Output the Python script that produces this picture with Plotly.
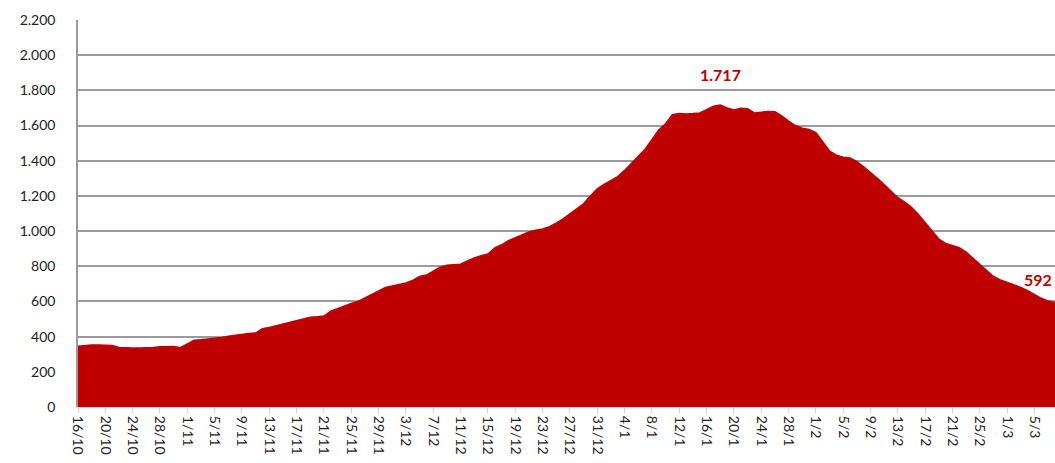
import plotly.graph_objects as go
import pandas as pd

start_date = "2020-10-16"
values = [
    345, 350, 352, 352, 350, 350,
    338, 335, 335, 336, 336, 338, 342, 345, 344,
    337, 360, 380, 382, 385, 392, 395, 402, 408, 412, 418, 420,
    445, 452, 462, 471, 480, 490, 500, 510, 513, 517,
    545, 560, 572, 588, 600, 620, 642, 662, 680, 688, 698, 705,
    720, 742, 750, 772, 795, 806, 810, 812, 830, 848, 860, 870,
    905, 922, 945, 962, 978, 995, 1005, 1012, 1025, 1045, 1070, 1100,
    1128, 1155, 1200, 1240, 1265, 1290, 1310, 1345, 1385, 1420, 1465, 1520,
    1575, 1610, 1662, 1668, 1665, 1668, 1672, 1690, 1710, 1717, 1700, 1688,
    1698, 1695, 1672, 1676, 1680, 1678, 1655, 1625, 1600, 1585, 1578, 1560,
    1510, 1455, 1432, 1420, 1415, 1395, 1365, 1335, 1300, 1265, 1225, 1190,
    1165, 1135, 1095, 1050, 1000, 955, 930, 918, 905, 880, 845, 815,
    775, 742, 722, 708, 695, 680, 662, 640, 618, 602, 592,
]
dates = pd.date_range(start_date, periods=len(values), freq="D")

peak_idx = values.index(max(values))
last_idx = len(values) - 1

red = "#C00000"
font_family = "Lato, 'Open Sans', sans-serif"

fig = go.Figure()
fig.add_trace(go.Scatter(
    x=dates, y=values, mode="lines", fill="tozeroy",
    line=dict(color=red, width=1.5), fillcolor=red,
    hoverinfo="x+y", showlegend=False,
))

fig.add_annotation(
    x=dates[peak_idx], y=values[peak_idx], text="<b>1.717</b>",
    showarrow=False, yshift=30, font=dict(family=font_family, size=16, color=red),
)
fig.add_annotation(
    x=dates[last_idx], y=values[last_idx], text="<b>592</b>",
    showarrow=False, yshift=23, xanchor="right", xshift=-1,
    font=dict(family=font_family, size=16, color=red),
)

fig.update_layout(
    width=1055, height=463,
    margin=dict(l=78, r=0, t=20, b=56),
    paper_bgcolor="white", plot_bgcolor="white",
    separators=",.",
    font=dict(family=font_family, size=14, color="#333333"),
    xaxis=dict(
        type="date",
        range=[dates[0], dates[last_idx]],
        tick0=start_date, dtick=4 * 86400000,
        tickformat="%-d/%-m", tickangle=90,
        ticks="outside", ticklen=5, tickcolor="#d0d0d0",
        showgrid=False, showline=True, linecolor="#d9d9d9", linewidth=1,
        tickfont=dict(family=font_family, size=14, color="#222222"),
        fixedrange=True,
    ),
    yaxis=dict(
        range=[0, 2200], dtick=200, tickformat=",d",
        showgrid=True, gridcolor="#9a9a9a", gridwidth=1.5,
        showline=True, linecolor="#9a9a9a", linewidth=1.5,
        zeroline=False, ticks="", ticklabelstandoff=18,
        tickfont=dict(family=font_family, size=14, color="#222222"),
        fixedrange=True,
    ),
)

fig.write_html(
    "out.html",
    config={"displayModeBar": False},
    post_script="document.body.style.margin='0px';document.body.style.overflow='hidden';",
)
